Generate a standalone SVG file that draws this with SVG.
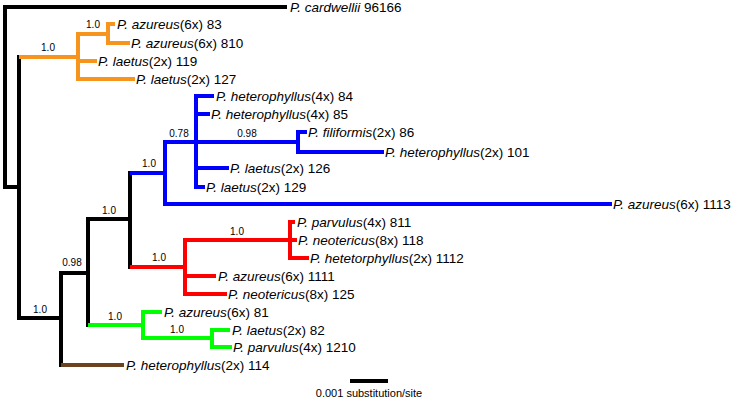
<svg xmlns="http://www.w3.org/2000/svg" width="737" height="399" viewBox="0 0 737 399">
<style>
.e{fill:none;stroke-width:4;stroke-linecap:square;stroke-linejoin:miter}
.k{stroke:#000}.o{stroke:#f7941d}.b{stroke:#0000ff}.r{stroke:#ff0000}.g{stroke:#00ff00}.w{stroke:#6b4321}
text{font-family:"Liberation Sans",Arial,sans-serif;fill:#000}
.t{font-size:13.5px}
.s{font-size:10px;text-anchor:middle}
.i{font-style:italic}
</style>
<rect width="737" height="399" fill="#fff"/>
<g id="connectors">
<path class="e k" d="M5,7H285M5,7V187H19M19,57V318M19,318H61M61,273V365M61,273H88M88,219V325M88,219H130M130,173V267"/>
<path class="e o" d="M21,57H78M78,34V79M78,34H108M108,24V43M108,24H113M108,43H128M78,61H95M78,79H133"/>
<path class="e b" d="M132,173H165M165,142V204M165,204H610M165,142H196M196,96V187M196,96H212M196,114H208M196,142H298M298,132V152M298,132H305M298,152H382M196,168H227M196,187H203"/>
<path class="e r" d="M132,267H185M185,240V294M185,240H290M290,222V258M290,222H293M290,240H295M290,258H307M185,276H214M185,294H225"/>
<path class="e g" d="M90,325H143M143,312V338M143,312H160M143,338H212M212,330V347M212,330H228M212,347H230"/>
<path class="e w" d="M63,365H122"/>
</g>
<g id="support">
<text class="s" x="48" y="51">1.0</text>
<text class="s" x="93" y="28">1.0</text>
<text class="s" x="179" y="137">0.78</text>
<text class="s" x="247" y="137">0.98</text>
<text class="s" x="149" y="167">1.0</text>
<text class="s" x="109" y="214">1.0</text>
<text class="s" x="237" y="235">1.0</text>
<text class="s" x="159" y="261">1.0</text>
<text class="s" x="72" y="266">0.98</text>
<text class="s" x="40" y="313">1.0</text>
<text class="s" x="115" y="320">1.0</text>
<text class="s" x="177" y="333">1.0</text>
</g>
<g id="n96166"><text class="t" x="290" y="12"><tspan class="i">P. cardwellii</tspan> 96166</text></g>
<g id="n83"><text class="t" x="117" y="29"><tspan class="i">P. azureus</tspan>(6x) 83</text></g>
<g id="n810"><text class="t" x="131" y="48"><tspan class="i">P. azureus</tspan>(6x) 810</text></g>
<g id="n119"><text class="t" x="98" y="66"><tspan class="i">P. laetus</tspan>(2x) 119</text></g>
<g id="n127"><text class="t" x="136" y="84"><tspan class="i">P. laetus</tspan>(2x) 127</text></g>
<g id="n84"><text class="t" x="216" y="101"><tspan class="i">P. heterophyllus</tspan>(4x) 84</text></g>
<g id="n85"><text class="t" x="211" y="119"><tspan class="i">P. heterophyllus</tspan>(4x) 85</text></g>
<g id="n86"><text class="t" x="308" y="137"><tspan class="i">P. filiformis</tspan>(2x) 86</text></g>
<g id="n101"><text class="t" x="385" y="157"><tspan class="i">P. heterophyllus</tspan>(2x) 101</text></g>
<g id="n126"><text class="t" x="230" y="173"><tspan class="i">P. laetus</tspan>(2x) 126</text></g>
<g id="n129"><text class="t" x="206" y="192"><tspan class="i">P. laetus</tspan>(2x) 129</text></g>
<g id="n1113"><text class="t" x="613" y="209"><tspan class="i">P. azureus</tspan>(6x) 1113</text></g>
<g id="n811"><text class="t" x="297" y="227"><tspan class="i">P. parvulus</tspan>(4x) 811</text></g>
<g id="n118"><text class="t" x="298" y="245"><tspan class="i">P. neotericus</tspan>(8x) 118</text></g>
<g id="n1112"><text class="t" x="310" y="263"><tspan class="i">P. hetetorphyllus</tspan>(2x) 1112</text></g>
<g id="n1111"><text class="t" x="218" y="281"><tspan class="i">P. azureus</tspan>(6x) 1111</text></g>
<g id="n125"><text class="t" x="228" y="299"><tspan class="i">P. neotericus</tspan>(8x) 125</text></g>
<g id="n81"><text class="t" x="164" y="317"><tspan class="i">P. azureus</tspan>(6x) 81</text></g>
<g id="n82"><text class="t" x="232" y="335"><tspan class="i">P. laetus</tspan>(2x) 82</text></g>
<g id="n1210"><text class="t" x="233" y="352"><tspan class="i">P. parvulus</tspan>(4x) 1210</text></g>
<g id="n114"><text class="t" x="126" y="370"><tspan class="i">P. heterophyllus</tspan>(2x) 114</text></g>
<g id="scale">
<path class="e k" d="M352,381H386" stroke-linecap="butt"/>
<text x="369" y="397" font-size="11" text-anchor="middle">0.001 substitution/site</text>
</g>
</svg>
